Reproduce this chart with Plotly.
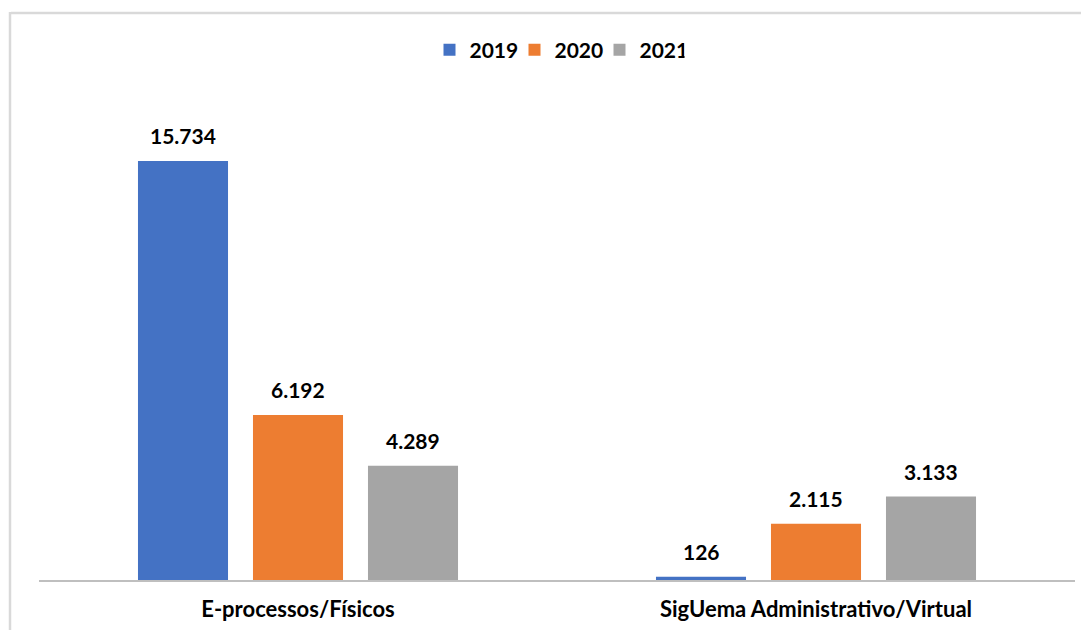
import plotly.graph_objects as go

categories = ["E-processos/Físicos", "SigUema Administrativo/Virtual"]
years = ["2019", "2020", "2021"]
values_2019 = [15734, 126]
values_2020 = [6192, 2115]
values_2021 = [4289, 3133]
colors = ["#4472C4", "#ED7D31", "#A5A5A5"]

series = [values_2019, values_2020, values_2021]

FONT = "Lato"

# page body has an 8px default margin; layout numbers below account for it
L, T, R, B = 31, 72, 22, 58
PW = 1089 - L - R
PH = 630 - T - B

def fmt(v):
    return f"{v:,}".replace(",", ".")

fig = go.Figure()
for name, vals, col in zip(years, series, colors):
    fig.add_trace(go.Bar(
        x=categories, y=vals, name=name, marker_color=col,
        marker_line_width=0,
    ))

offsets = [-115, 0, 115]
annotations = []
for vals, dx in zip(series, offsets):
    for cat, v in zip(categories, vals):
        annotations.append(dict(
            x=cat, y=v, xref="x", yref="y", text=fmt(v), showarrow=False,
            xshift=dx, yshift=11, yanchor="bottom",
            font=dict(family=FONT, size=21, color="#000000", weight="bold"),
        ))

fx = lambda px: (px - L) / PW
fy = lambda py: (T + PH - py) / PH

fig.update_layout(
    width=1089, height=630,
    margin=dict(l=L, r=R, t=T, b=B),
    paper_bgcolor="white", plot_bgcolor="white",
    barmode="group", bargap=0.334, bargroupgap=0.217,
    separators=",.",
    font=dict(family=FONT, color="#000000"),
    legend=dict(
        orientation="h", x=0.5, xanchor="center", y=fy(42), yanchor="middle",
        font=dict(family=FONT, size=21, color="#000000", weight="bold"),
        itemwidth=30, traceorder="normal",
        entrywidth=40, entrywidthmode="pixels",
    ),
    annotations=annotations,
    shapes=[
        dict(type="line", xref="paper", yref="paper",
             x0=fx(3), x1=1.2, y0=fy(5), y1=fy(5),
             line=dict(color="#D9D9D9", width=2.5)),
        dict(type="line", xref="paper", yref="paper",
             x0=fx(2), x1=fx(2), y0=fy(4), y1=-0.3,
             line=dict(color="#D9D9D9", width=2.5)),
    ],
)
fig.update_xaxes(
    showline=True, linecolor="#BFBFBF", linewidth=2,
    ticks="outside", ticklen=9, tickcolor="rgba(0,0,0,0)",
    tickfont=dict(family=FONT, size=22, color="#000000", weight="bold"),
    showgrid=False,
)
fig.update_yaxes(range=[0, PH / (419 / 15734)], visible=False, showgrid=False)

fig.write_html("out.html")
